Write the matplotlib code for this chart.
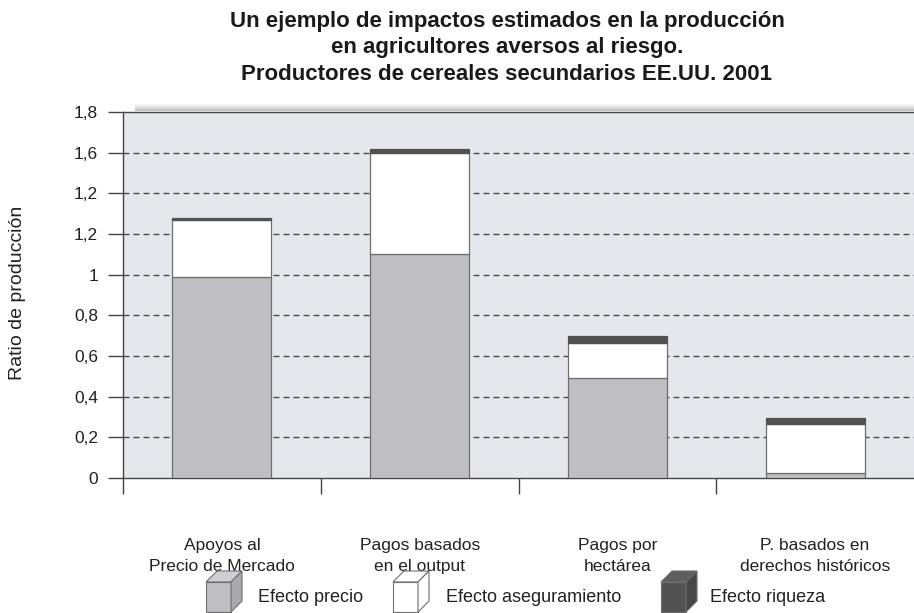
import matplotlib
matplotlib.use("Agg")
import matplotlib.pyplot as plt
from matplotlib.patches import Polygon, Rectangle
import numpy as np

plt.rcParams['font.family'] = ['Liberation Sans', 'DejaVu Sans']

categories = ["Apoyos al\nPrecio de Mercado", "Pagos basados\nen el output",
              "Pagos por\nhectárea", "P. basados en\nderechos históricos"]
efecto_precio = [0.99, 1.10, 0.49, 0.026]
efecto_aseguramiento = [0.277, 0.50, 0.175, 0.238]
efecto_riqueza = [0.014, 0.02, 0.032, 0.032]
series_names = ["Efecto precio", "Efecto aseguramiento", "Efecto riqueza"]
ytick_values = [0, 0.2, 0.4, 0.6, 0.8, 1.0, 1.2, 1.4, 1.6, 1.8]
ytick_labels = ["0", "0,2", "0,4", "0,6", "0,8", "1", "1,2", "1,2", "1,6", "1,8"]
title_lines = ["Un ejemplo de impactos estimados en la producción",
               "en agricultores aversos al riesgo.",
               "Productores de cereales secundarios EE.UU. 2001"]
ylabel = "Ratio de producción"

W, H = 914, 613
fig = plt.figure(figsize=(W / 100, H / 100), dpi=100)
fig.patch.set_facecolor("white")

def fx(x):
    return x / W

def fy(y):
    return 1 - y / H

ax = fig.add_axes([fx(123), fy(478), fx(914) - fx(123), fy(112) - fy(478)])
ax.set_facecolor("#e6e7ec")

colors = ["#bfbfc3", "#ffffff", "#525252"]
edge = "#6e6e6e"
x = np.arange(len(categories))
width = 0.5
b1 = np.array(efecto_precio)
b2 = np.array(efecto_aseguramiento)
b3 = np.array(efecto_riqueza)
ax.bar(x, b1, width, color=colors[0], edgecolor=edge, linewidth=0.9, zorder=3)
ax.bar(x, b2, width, bottom=b1, color=colors[1], edgecolor=edge, linewidth=0.9, zorder=3)
ax.bar(x, b3, width, bottom=b1 + b2, color=colors[2], edgecolor=colors[2], linewidth=0.9, zorder=3)

ax.set_xlim(-0.5, 3.5)
ax.set_ylim(0, 1.8)
ax.set_yticks(ytick_values)
ax.set_yticklabels(ytick_labels, fontsize=12.5, color="#222222")
for v in ytick_values[1:-1]:
    ax.axhline(v, color="#4a4a4a", linewidth=1.0, linestyle=(0, (4.3, 2.9)), zorder=1)

ax.set_xticks([-0.5, 0.5, 1.5, 2.5])
ax.set_xticklabels([])
ax.set_xticks(x, minor=True)
ax.set_xticklabels(categories, minor=True, fontsize=12.5, color="#222222", linespacing=1.55)
ax.tick_params(axis="x", which="major", direction="out", length=11.5, width=1.0, color="#444444")
ax.tick_params(axis="x", which="minor", length=0, pad=43)
ax.tick_params(axis="y", direction="out", length=11, width=1.0, color="#444444", pad=7)

for s in ["left", "bottom", "top"]:
    ax.spines[s].set_color("#444444")
    ax.spines[s].set_linewidth(1.0)
ax.spines["right"].set_visible(False)

# soft shadow above the top of the plot area
for i in range(8):
    a = 0.45 * (1 - i / 8) ** 1.5
    fig.patches.append(Rectangle((fx(135), fy(112 - i - 1)), fx(914) - fx(135), 1 / H,
                                 transform=fig.transFigure, facecolor="#707070", alpha=a,
                                 edgecolor="none", zorder=0))

fig.text(fx(18), fy(293), ylabel, rotation=90, ha="center", va="center", fontsize=14, color="#222222")
for ty, line in zip([21, 48, 75], title_lines):
    fig.text(fx(507), fy(ty), line, ha="center", va="center", fontsize=16, fontweight="bold",
             color="#1a1a1a")

# legend with cube icons
def cube(x0, ytop, face, top, side):
    w, h, d = 25, 30, 11
    front = [(x0, ytop), (x0 + w, ytop), (x0 + w, ytop + h), (x0, ytop + h)]
    topf = [(x0, ytop), (x0 + d, ytop - d), (x0 + w + d, ytop - d), (x0 + w, ytop)]
    sidef = [(x0 + w, ytop), (x0 + w + d, ytop - d), (x0 + w + d, ytop + h - d), (x0 + w, ytop + h)]
    for pts, c in [(front, face), (topf, top), (sidef, side)]:
        fig.patches.append(Polygon([(fx(a), fy(b)) for a, b in pts], closed=True,
                                   transform=fig.transFigure, facecolor=c,
                                   edgecolor="#6e6e6e", linewidth=0.8))

legend_cube_x = [206, 393, 661]
legend_text_x = [258, 446, 710]
cube_colors = [("#bfbfc3", "#d0d0d4", "#a9a9ae"),
               ("#ffffff", "#ffffff", "#ffffff"),
               ("#525252", "#5e5e5e", "#474747")]
for cx, tx, name, cc in zip(legend_cube_x, legend_text_x, series_names, cube_colors):
    cube(cx, 582, *cc)
    fig.text(fx(tx), fy(597), name, ha="left", va="center", fontsize=13, color="#222222")

fig.savefig("out.png", dpi=100)
